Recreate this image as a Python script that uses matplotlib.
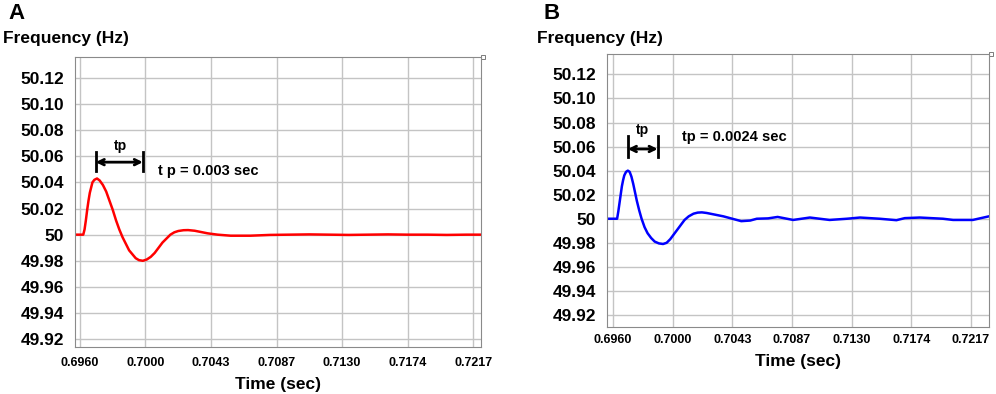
import numpy as np
import matplotlib.pyplot as plt

plt.rcParams['font.family'] = ['Liberation Sans', 'DejaVu Sans']
plt.rcParams['font.weight'] = 'bold'

# 目盛り (グリッド番号 0..6 に対応するラベル)
x_ticklabels = ["0.6960", "0.7000", "0.7043", "0.7087", "0.7130", "0.7174", "0.7217"]
y_ticks = [49.92, 49.94, 49.96, 49.98, 50.00, 50.02, 50.04, 50.06, 50.08, 50.10, 50.12]
y_ticklabels = ["49.92", "49.94", "49.96", "49.98", "50", "50.02", "50.04", "50.06", "50.08", "50.10", "50.12"]

# A: 周波数応答 (x はグリッド単位)
a_u = [-0.08, 0.05, 0.07, 0.09, 0.11, 0.13, 0.15, 0.17, 0.19, 0.22, 0.26, 0.30, 0.35, 0.40,
       0.45, 0.50, 0.55, 0.60, 0.65, 0.70, 0.75, 0.80, 0.85, 0.90, 0.96, 1.02, 1.08, 1.14,
       1.20, 1.26, 1.32, 1.38, 1.44, 1.50, 1.58, 1.65, 1.75, 1.85, 1.95, 2.10, 2.30, 2.60,
       2.90, 3.20, 3.50, 3.80, 4.10, 4.40, 4.70, 5.00, 5.30, 5.60, 5.90, 6.12]
a_f = [50.000, 50.000, 50.004, 50.011, 50.019, 50.026, 50.032, 50.036, 50.040, 50.042, 50.043,
       50.0415, 50.038, 50.033, 50.026, 50.019, 50.011, 50.004, 49.998, 49.993, 49.988, 49.985,
       49.982, 49.9805, 49.980, 49.981, 49.983, 49.986, 49.990, 49.994, 49.997, 50.000, 50.0018,
       50.0028, 50.0034, 50.0035, 50.003, 50.002, 50.001, 50.000, 49.9992, 49.9992, 49.9998,
       50.000, 50.0002, 50.000, 49.9998, 50.000, 50.0002, 50.000, 50.000, 49.9998, 50.000, 50.000]

# B
b_u = [-0.10, 0.07, 0.09, 0.11, 0.13, 0.15, 0.17, 0.19, 0.22, 0.25, 0.28, 0.31, 0.34, 0.37,
       0.40, 0.44, 0.48, 0.53, 0.58, 0.64, 0.70, 0.77, 0.84, 0.90, 0.96, 1.02, 1.08, 1.14,
       1.20, 1.27, 1.35, 1.42, 1.49, 1.57, 1.65, 1.85, 2.00, 2.15, 2.30, 2.41, 2.60, 2.76,
       3.02, 3.30, 3.63, 3.92, 4.14, 4.47, 4.75, 4.89, 5.14, 5.53, 5.70, 6.03, 6.30]
b_f = [50.000, 50.000, 50.006, 50.013, 50.020, 50.027, 50.032, 50.036, 50.039, 50.040, 50.039,
       50.035, 50.029, 50.022, 50.015, 50.007, 50.000, 49.993, 49.988, 49.984, 49.981, 49.9795,
       49.979, 49.980, 49.983, 49.987, 49.991, 49.995, 49.999, 50.002, 50.0042, 50.0051, 50.0053,
       50.0048, 50.004, 50.002, 50.000, 49.998, 49.9985, 50.000, 50.0003, 50.0015, 49.999,
       50.001, 49.999, 50.000, 50.001, 50.000, 49.9988, 50.0005, 50.001, 50.000, 49.999,
       49.999, 50.002]

fig = plt.figure(figsize=(9.96, 3.94), dpi=100)
ax1 = fig.add_axes([0.0753, 0.1193, 0.4076, 0.736])
ax2 = fig.add_axes([0.6094, 0.1701, 0.3835, 0.6929])

def style(ax, xlim, ylim, xpad):
    ax.set_xlim(*xlim)
    ax.set_ylim(*ylim)
    ax.set_xticks(range(7))
    ax.set_xticklabels(x_ticklabels, fontsize=9, fontweight='bold')
    ax.set_yticks(y_ticks)
    ax.set_yticklabels(y_ticklabels, fontsize=12.5, fontweight='bold')
    ax.grid(True, color='#c4c4c4', linewidth=1)
    ax.tick_params(axis='both', length=0)
    ax.tick_params(axis='y', pad=8)
    ax.tick_params(axis='x', pad=xpad)
    for s in ax.spines.values():
        s.set_color('#8a8a8a')
    ax.plot([1.005], [1.0], marker='s', ms=3, mfc='white', mec='#666666',
            mew=0.6, transform=ax.transAxes, clip_on=False)

style(ax1, (-0.076, 6.12), (49.914, 50.136), 7)
style(ax2, (-0.10, 6.30), (49.910, 50.137), 5)

ax1.plot(a_u, a_f, color='#ff0000', lw=1.8)
ax2.plot(b_u, b_f, color='#0000ff', lw=1.8)

# tp 矢印 A
for xx in (0.24, 0.96):
    ax1.plot([xx, xx], [50.049, 50.063], color='black', lw=2)
ax1.annotate('', xy=(0.24, 50.0555), xytext=(0.96, 50.0555),
             arrowprops=dict(arrowstyle='<->', color='black', lw=2, shrinkA=0, shrinkB=0))
ax1.text(0.62, 50.0675, 'tp', fontsize=10, fontweight='bold', ha='center', va='center')
ax1.text(1.19, 50.049, 't p = 0.003 sec', fontsize=10.5, fontweight='bold', va='center')

# tp 矢印 B
for xx in (0.25, 0.75):
    ax2.plot([xx, xx], [50.051, 50.069], color='black', lw=2)
ax2.annotate('', xy=(0.25, 50.058), xytext=(0.75, 50.058),
             arrowprops=dict(arrowstyle='<->', color='black', lw=2, shrinkA=0, shrinkB=0))
ax2.text(0.50, 50.0735, 'tp', fontsize=10, fontweight='bold', ha='center', va='center')
ax2.text(1.15, 50.068, 'tp = 0.0024 sec', fontsize=10.5, fontweight='bold', va='center')

ax1.set_xlabel('Time (sec)', fontsize=12.5, fontweight='bold', labelpad=6)
ax2.set_xlabel('Time (sec)', fontsize=12.5, fontweight='bold', labelpad=6)

fig.text(0.008, 0.965, 'A', fontsize=16, fontweight='bold', va='center')
fig.text(0.003, 0.903, 'Frequency (Hz)', fontsize=12.5, fontweight='bold', va='center')
fig.text(0.546, 0.965, 'B', fontsize=16, fontweight='bold', va='center')
fig.text(0.539, 0.903, 'Frequency (Hz)', fontsize=12.5, fontweight='bold', va='center')

plt.savefig('out.png', dpi=100)
